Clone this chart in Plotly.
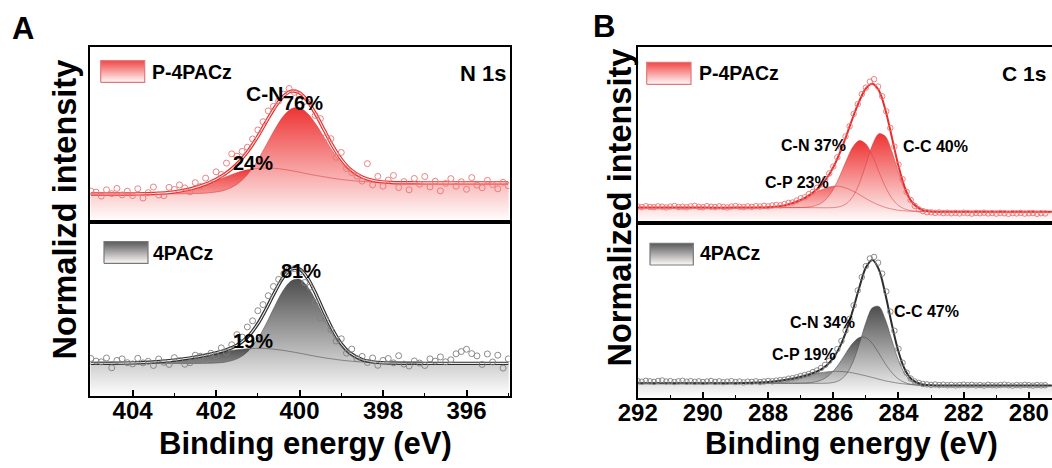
import plotly.graph_objects as go

W, H = 1052, 468

# ---------------- Panel A : N 1s ----------------
A_X = [405.0, 404.875, 404.75, 404.625, 404.5, 404.375, 404.25, 404.125, 404.0, 403.875,
       403.75, 403.625, 403.5, 403.375, 403.25, 403.125, 403.0, 402.875, 402.75, 402.625,
       402.5, 402.375, 402.25, 402.125, 402.0, 401.875, 401.75, 401.625, 401.5, 401.375,
       401.25, 401.125, 401.0, 400.875, 400.75, 400.625, 400.5, 400.375, 400.25, 400.125,
       400.0, 399.875, 399.75, 399.625, 399.5, 399.375, 399.25, 399.125, 399.0, 398.875,
       398.75, 398.625, 398.5, 398.375, 398.25, 398.125, 398.0, 397.875, 397.75, 397.625,
       397.5, 397.375, 397.25, 397.125, 397.0, 396.875, 396.75, 396.625, 396.5, 396.375,
       396.25, 396.125, 396.0, 395.875, 395.75, 395.625, 395.5, 395.375, 395.25, 395.125, 395.0]

A_TOP_DATA = [17.5, 16.9, 14.6, 18.2, 16.0, 19.0, 15.3, 17.4, 14.9, 18.8,
              13.5, 16.6, 19.8, 15.2, 14.8, 19.6, 18.4, 21.0, 19.3, 17.0,
              22.3, 20.1, 24.9, 21.6, 28.5, 27.0, 33.5, 38.8, 37.5, 40.2,
              42.6, 47.3, 52.5, 57.2, 63.4, 66.0, 69.1, 73.0, 76.2, 74.0,
              72.4, 68.9, 68.5, 60.8, 59.0, 48.2, 47.5, 36.8, 39.6, 30.4,
              28.1, 26.0, 23.2, 33.2, 21.0, 25.9, 20.3, 23.8, 26.4, 19.5,
              22.9, 18.2, 24.7, 21.4, 25.8, 19.9, 23.1, 17.6, 21.9, 24.6,
              20.3, 22.8, 18.5, 25.2, 20.9, 19.4, 23.6, 21.2, 18.8, 22.5, 20.6]

A_BOT_DATA = [21.5, 20.0, 19.6, 21.8, 16.2, 20.4, 21.3, 19.1, 18.4, 21.6,
              19.0, 19.9, 17.5, 21.2, 19.3, 18.1, 22.0, 20.3, 18.2, 19.1,
              23.4, 22.8, 20.6, 24.5, 23.1, 27.6, 25.0, 29.4, 35.2, 33.8,
              39.6, 43.1, 48.9, 52.4, 57.5, 62.8, 66.9, 70.2, 72.6, 73.0,
              70.9, 65.1, 62.4, 53.6, 44.9, 44.2, 38.1, 31.5, 32.8, 24.6,
              26.9, 21.4, 22.7, 19.2, 21.8, 17.6, 20.4, 21.5, 19.0, 23.1,
              18.3, 17.2, 20.1, 18.9, 17.5, 21.3, 20.0, 22.4, 19.6, 20.8,
              24.2, 25.5, 26.8, 24.3, 23.0, 18.1, 24.1, 19.5, 23.4, 16.0, 21.3]

A_FIT_X = [405.0, 404.5, 404.0, 403.5, 403.0, 402.6, 402.2, 401.8, 401.5, 401.25,
           401.0, 400.8, 400.6, 400.4, 400.2, 400.0, 399.8, 399.6, 399.4, 399.2,
           399.0, 398.8, 398.5, 398.2, 397.8, 397.0, 396.0, 395.0]

A_TOP_BG = [15.8, 15.8, 15.8, 15.8, 15.9, 16.0, 16.1, 16.2, 16.4, 16.65,
            17.0, 17.4, 17.9, 18.5, 19.1, 19.7, 20.3, 20.9, 21.4, 21.7,
            21.95, 22.1, 22.2, 22.2, 22.2, 22.2, 22.2, 22.2]
A_TOP_CN76 = [15.8, 15.8, 15.8, 15.8, 15.9, 16.04, 16.41, 17.93, 21.35, 26.85,
              35.3, 43.8, 52.5, 60.0, 64.6, 65.2, 61.8, 55.5, 47.8, 40.0,
              33.55, 28.8, 24.7, 22.96, 22.31, 22.2, 22.2, 22.2]
A_TOP_P24 = [15.8, 15.8, 15.85, 16.08, 17.05, 18.8, 21.6, 25.3, 28.0, 29.65,
             30.5, 30.7, 30.5, 30.0, 29.2, 28.3, 27.3, 26.4, 25.6, 24.8,
             24.15, 23.6, 23.0, 22.6, 22.3, 22.2, 22.2, 22.2]

A_BOT_BG = [18.7, 18.7, 18.7, 18.7, 18.7, 18.7, 18.7, 18.7, 18.7, 18.7,
            18.7, 18.7, 18.7, 18.7, 18.7, 18.7, 18.7, 18.7, 18.7, 18.7,
            18.7, 18.7, 18.7, 18.7, 18.7, 18.7, 18.7, 18.7]
A_BOT_CN81 = [18.7, 18.7, 18.7, 18.7, 18.7, 18.7, 18.77, 19.37, 21.3, 25.3,
              32.8, 41.4, 51.2, 60.2, 66.0, 66.9, 62.4, 54.1, 44.2, 35.2,
              28.1, 23.5, 20.1, 19.03, 18.73, 18.7, 18.7, 18.7]
A_BOT_P19 = [18.72, 18.78, 18.97, 19.48, 20.55, 21.9, 23.6, 25.4, 26.5, 27.1,
             27.3, 27.2, 26.8, 26.2, 25.4, 24.55, 23.6, 22.7, 21.9, 21.2,
             20.55, 20.05, 19.48, 19.12, 18.87, 18.72, 18.7, 18.7]

# ---------------- Panel B : C 1s ----------------
B_X = [292.0, 291.875, 291.75, 291.625, 291.5, 291.375, 291.25, 291.125, 291.0, 290.875,
       290.75, 290.625, 290.5, 290.375, 290.25, 290.125, 290.0, 289.875, 289.75, 289.625,
       289.5, 289.375, 289.25, 289.125, 289.0, 288.875, 288.75, 288.625, 288.5, 288.375,
       288.25, 288.125, 288.0, 287.875, 287.75, 287.625, 287.5, 287.375, 287.25, 287.125,
       287.0, 286.875, 286.75, 286.625, 286.5, 286.375, 286.25, 286.125, 286.0, 285.875,
       285.75, 285.625, 285.5, 285.375, 285.25, 285.125, 285.0, 284.875, 284.75, 284.625,
       284.5, 284.375, 284.25, 284.125, 284.0, 283.875, 283.75, 283.625, 283.5, 283.375,
       283.25, 283.125, 283.0, 282.875, 282.75, 282.625, 282.5, 282.375, 282.25, 282.125,
       282.0, 281.875, 281.75, 281.625, 281.5, 281.375, 281.25, 281.125, 281.0, 280.875,
       280.75, 280.625, 280.5, 280.375, 280.25, 280.125, 280.0, 279.875, 279.75, 279.625, 279.5]

B_TOP_DATA = [9.2, 8.9, 9.4, 9.0, 8.8, 9.3, 9.1, 8.7, 9.2, 9.5,
              8.9, 9.1, 8.8, 9.3, 9.6, 9.0, 8.8, 9.4, 9.1, 8.9,
              9.3, 9.0, 8.7, 9.2, 9.5, 9.1, 8.9, 9.3, 9.0, 9.4,
              9.2, 9.6, 9.3, 9.8, 10.1, 9.9, 10.6, 11.3, 11.5, 12.6,
              13.9, 14.5, 16.3, 17.6, 19.9, 21.8, 24.9, 28.1, 32.0, 37.3,
              42.5, 49.2, 55.0, 62.0, 67.6, 73.3, 77.0, 80.4, 81.8, 77.6,
              72.1, 63.5, 54.0, 43.4, 33.1, 24.8, 17.6, 12.9, 9.6, 7.6,
              6.6, 6.0, 5.9, 5.6, 5.8, 5.5, 5.7, 5.4, 5.6, 5.3,
              5.7, 5.5, 5.2, 5.6, 5.4, 5.7, 5.3, 5.5, 5.2, 5.6,
              5.4, 5.1, 5.5, 5.3, 5.6, 5.2, 5.4, 5.5, 5.1, 5.4, 5.3]

B_BOT_DATA = [9.7, 9.4, 9.9, 9.6, 9.3, 9.8, 10.1, 9.5, 9.7, 9.2,
              9.6, 9.9, 9.4, 9.7, 9.3, 9.6, 9.2, 9.5, 9.8, 9.3,
              9.6, 9.1, 9.4, 9.7, 9.2, 9.5, 9.0, 9.4, 9.3, 9.6,
              9.2, 9.5, 9.8, 9.6, 10.0, 10.3, 10.5, 11.1, 11.4, 11.9,
              12.6, 13.2, 13.8, 14.9, 15.8, 17.2, 19.0, 21.3, 24.2, 28.0,
              32.6, 38.5, 45.2, 52.9, 61.4, 69.0, 75.3, 79.6, 80.5, 77.2,
              71.0, 60.8, 49.3, 38.4, 28.1, 20.2, 14.6, 11.2, 9.5, 8.7,
              8.1, 7.9, 7.6, 7.8, 7.5, 7.7, 7.4, 7.6, 7.3, 7.5,
              7.7, 7.4, 7.6, 7.3, 7.5, 7.2, 7.6, 7.4, 7.3, 7.5,
              7.7, 7.4, 7.2, 7.5, 7.3, 7.6, 7.4, 7.2, 7.5, 7.3, 7.4]

B_FIT_X = [292.0, 291.0, 290.0, 289.0, 288.0, 287.5, 287.0, 286.7, 286.4, 286.2,
           286.0, 285.8, 285.6, 285.4, 285.2, 285.0, 284.8, 284.6, 284.4, 284.2,
           284.0, 283.8, 283.6, 283.3, 283.0, 282.5, 282.0, 281.0, 280.0, 279.3]

B_TOP_BG = [8.6, 8.6, 8.6, 8.6, 8.6, 8.6, 8.6, 8.58, 8.53, 8.48,
            8.4, 8.32, 8.2, 8.07, 7.9, 7.7, 7.5, 7.25, 7.0, 6.8,
            6.6, 6.5, 6.4, 6.33, 6.3, 6.3, 6.3, 6.3, 6.3, 6.3]
B_TOP_CC = [8.6, 8.6, 8.6, 8.6, 8.6, 8.6, 8.6, 8.58, 8.54, 8.52,
            8.61, 9.14, 10.8, 14.87, 22.4, 33.2, 44.3, 50.75, 49.2, 40.4,
            28.6, 18.3, 11.6, 7.38, 6.44, 6.3, 6.3, 6.3, 6.3, 6.3]
B_TOP_CN = [8.6, 8.6, 8.6, 8.6, 8.6, 8.6, 8.67, 9.06, 10.79, 13.78,
            19.0, 26.62, 35.4, 43.17, 46.8, 44.9, 38.2, 29.05, 20.4, 13.9,
            9.8, 7.77, 6.83, 6.38, 6.3, 6.3, 6.3, 6.3, 6.3, 6.3]
B_TOP_CP = [8.6, 8.6, 8.6, 8.6, 8.85, 9.88, 12.86, 15.68, 18.53, 19.98,
            20.8, 20.72, 19.7, 18.07, 16.0, 13.8, 11.76, 10.05, 8.7, 7.76,
            7.1, 6.75, 6.51, 6.36, 6.3, 6.3, 6.3, 6.3, 6.3, 6.3]

B_BOT_BG = [8.5, 8.5, 8.5, 8.5, 8.5, 8.5, 8.5, 8.48, 8.44, 8.4,
            8.35, 8.28, 8.2, 8.1, 8.0, 7.9, 7.8, 7.65, 7.5, 7.4,
            7.3, 7.25, 7.2, 7.2, 7.2, 7.2, 7.2, 7.2, 7.2, 7.2]
B_BOT_CC = [8.5, 8.5, 8.5, 8.5, 8.5, 8.5, 8.5, 8.48, 8.47, 8.54,
            8.93, 10.25, 13.66, 20.5, 31.0, 43.0, 51.5, 52.25, 44.7, 32.9,
            21.6, 13.75, 9.65, 7.59, 7.24, 7.2, 7.2, 7.2, 7.2, 7.2]
B_BOT_CN = [8.5, 8.5, 8.5, 8.5, 8.5, 8.5, 8.57, 8.87, 10.09, 12.05,
            15.45, 20.28, 26.1, 31.4, 34.6, 34.5, 31.1, 25.55, 19.5, 14.5,
            10.95, 8.9, 7.85, 7.33, 7.22, 7.2, 7.2, 7.2, 7.2, 7.2]
B_BOT_CP = [8.5, 8.5, 8.5, 8.55, 9.21, 10.33, 12.15, 13.38, 14.49, 15.0,
            15.28, 15.28, 14.97, 14.4, 13.6, 12.74, 11.8, 10.81, 9.9, 9.16,
            8.54, 8.09, 7.74, 7.46, 7.32, 7.22, 7.2, 7.2, 7.2, 7.2]

X_TICKS_A = [404, 402, 400, 398, 396]
X_TICKS_B = [292, 290, 288, 286, 284, 282, 280]

# ---------------- styling ----------------
FONT = "Liberation Sans, Arial, Helvetica, sans-serif"
RED = "rgb(238,52,52)"
RED_SOFT = "rgb(243,100,100)"
RED_LINE = "rgba(215,60,60,0.6)"
RED_DOT = "rgba(232,118,118,0.9)"
RED_ENV = "rgb(232,45,45)"
GRAY = "rgb(78,78,78)"
GRAY_SOFT = "rgb(135,135,135)"
GRAY_LINE = "rgba(70,70,70,0.6)"
GRAY_DOT = "rgba(128,128,128,0.9)"
GRAY_ENV = "rgb(45,45,45)"


def fxp(px):
    return px / W


def fyp(py):
    return 1 - py / H


A_XDOM = [fxp(90.0), fxp(509.5)]
B_XDOM = [fxp(637.7), 1.0]
A_TOP_YDOM = [fyp(221.6), fyp(47.0)]
A_BOT_YDOM = [fyp(396.0), fyp(221.6)]
B_TOP_YDOM = [fyp(222.7), fyp(47.3)]
B_BOT_YDOM = [fyp(398.2), fyp(222.7)]
A_RANGE = [405.02, 394.97]
B_RANGE = [292.0, 279.29]
Y_RANGE = [0, 100]


def envelope(bg, *comps):
    return [b + sum(c[i] - b for c in comps) for i, b in enumerate(bg)]


fig = go.Figure()


def add_panel(xa, ya, fit_x, bg, comps, data_x, data_y, env_color, dot_color,
              line_color, double_env, dot_size):
    for comp, top_col in comps:
        fig.add_trace(go.Scatter(
            x=fit_x, y=comp, mode="lines", xaxis=xa, yaxis=ya,
            line=dict(width=0, shape="spline", smoothing=0.9, color=top_col),
            fill="tozeroy",
            fillgradient=dict(type="vertical", start=0, stop=max(comp),
                              colorscale=[[0, "rgb(255,255,255)"], [1, top_col]]),
            hoverinfo="skip", showlegend=False))
    for comp, _ in comps:
        fig.add_trace(go.Scatter(
            x=fit_x, y=comp, mode="lines", xaxis=xa, yaxis=ya,
            line=dict(width=0.9, shape="spline", smoothing=0.9, color=line_color),
            hoverinfo="skip", showlegend=False))
    env = envelope(bg, *[c for c, _ in comps])
    if double_env:
        fig.add_trace(go.Scatter(
            x=fit_x, y=env, mode="lines", xaxis=xa, yaxis=ya,
            line=dict(width=3.4, shape="spline", smoothing=0.9, color=env_color),
            hoverinfo="skip", showlegend=False))
        fig.add_trace(go.Scatter(
            x=fit_x, y=env, mode="lines", xaxis=xa, yaxis=ya,
            line=dict(width=1.1, shape="spline", smoothing=0.9, color="rgba(255,255,255,0.9)"),
            hoverinfo="skip", showlegend=False))
    else:
        fig.add_trace(go.Scatter(
            x=fit_x, y=env, mode="lines", xaxis=xa, yaxis=ya,
            line=dict(width=2.0, shape="spline", smoothing=0.9, color=env_color),
            hoverinfo="skip", showlegend=False))
    fig.add_trace(go.Scatter(
        x=data_x, y=data_y, mode="markers", xaxis=xa, yaxis=ya,
        marker=dict(symbol="circle-open", size=dot_size, color=dot_color,
                    line=dict(width=1, color=dot_color)),
        hoverinfo="skip", showlegend=False))


add_panel("x", "y", A_FIT_X, A_TOP_BG, [(A_TOP_P24, RED), (A_TOP_CN76, RED)],
          A_X, A_TOP_DATA, RED_ENV, RED_DOT, RED_LINE, True, 6)
add_panel("x2", "y2", A_FIT_X, A_BOT_BG, [(A_BOT_P19, GRAY), (A_BOT_CN81, GRAY)],
          A_X, A_BOT_DATA, GRAY_ENV, GRAY_DOT, GRAY_LINE, True, 6)
add_panel("x3", "y3", B_FIT_X, B_TOP_BG, [(B_TOP_CP, RED_SOFT), (B_TOP_CN, RED), (B_TOP_CC, RED)],
          B_X, B_TOP_DATA, RED_ENV, RED_DOT, RED_LINE, False, 5.5)
add_panel("x4", "y4", B_FIT_X, B_BOT_BG, [(B_BOT_CP, GRAY_SOFT), (B_BOT_CN, GRAY), (B_BOT_CC, GRAY)],
          B_X, B_BOT_DATA, GRAY_ENV, GRAY_DOT, GRAY_LINE, False, 5.5)


def px_to_data(px, py, xdom, xr, ydom, yr):
    x = xr[0] + (px / W - xdom[0]) / (xdom[1] - xdom[0]) * (xr[1] - xr[0])
    y = yr[0] + ((1 - py / H) - ydom[0]) / (ydom[1] - ydom[0]) * (yr[1] - yr[0])
    return x, y


def add_key(xa, ya, box, xdom, xr, ydom, top_col, edge_col):
    x0, y0 = px_to_data(box[0], box[3], xdom, xr, ydom, Y_RANGE)
    x1, y1 = px_to_data(box[2], box[1], xdom, xr, ydom, Y_RANGE)
    fig.add_trace(go.Scatter(
        x=[x0, x1, x1, x0, x0], y=[y0, y0, y1, y1, y0], mode="lines",
        xaxis=xa, yaxis=ya, line=dict(width=1.2, color=edge_col),
        fill="toself",
        fillgradient=dict(type="vertical", start=y0, stop=y1,
                          colorscale=[[0, "rgb(255,250,250)"], [1, top_col]]),
        hoverinfo="skip", showlegend=False))


add_key("x", "y", (100.7, 60.7, 144.7, 82.3), A_XDOM, A_RANGE, A_TOP_YDOM, "rgb(240,70,70)", "rgb(228,120,120)")
add_key("x2", "y2", (104.0, 241.7, 148.0, 263.3), A_XDOM, A_RANGE, A_BOT_YDOM, "rgb(90,90,90)", "rgb(120,120,120)")
add_key("x3", "y3", (646.7, 62.3, 691.0, 84.3), B_XDOM, B_RANGE, B_TOP_YDOM, "rgb(240,70,70)", "rgb(228,120,120)")
add_key("x4", "y4", (650.0, 243.3, 693.3, 265.0), B_XDOM, B_RANGE, B_BOT_YDOM, "rgb(90,90,90)", "rgb(120,120,120)")

# ---------------- axes ----------------
tickfont = dict(family=FONT, size=24, color="black", weight="bold")


def xaxis(dom, rng, anchor, bottom, ticks_vals, mirror=True):
    d = dict(domain=dom, range=rng, anchor=anchor, showline=True, linewidth=2,
             linecolor="black", mirror=mirror, showgrid=False, zeroline=False,
             automargin=False)
    if bottom:
        d.update(ticks="inside", ticklen=6, tickwidth=1.6, tickcolor="black",
                 tickvals=ticks_vals, ticktext=[str(v) for v in ticks_vals],
                 tickfont=tickfont, ticklabelstandoff=-8,
                 minor=dict(dtick=1, tick0=0, ticks="inside", ticklen=3.5,
                            tickwidth=1.3, tickcolor="black"))
    else:
        d.update(ticks="", showticklabels=False)
    return d


def yaxis(dom, anchor, mirror):
    return dict(domain=dom, range=Y_RANGE, anchor=anchor, showline=True, linewidth=2,
                linecolor="black", mirror=mirror, showgrid=False, zeroline=False,
                ticks="", showticklabels=False, automargin=False)


layout = dict(
    width=W, height=H, autosize=False,
    margin=dict(l=0, r=0, t=0, b=0, pad=0),
    paper_bgcolor="white", plot_bgcolor="white",
    showlegend=False,
    xaxis=xaxis(A_XDOM, A_RANGE, "y", False, X_TICKS_A),
    yaxis=yaxis(A_TOP_YDOM, "x", True),
    xaxis2=xaxis(A_XDOM, A_RANGE, "y2", True, X_TICKS_A),
    yaxis2=yaxis(A_BOT_YDOM, "x2", True),
    xaxis3=xaxis(B_XDOM, B_RANGE, "y3", False, X_TICKS_B),
    yaxis3=yaxis(B_TOP_YDOM, "x3", False),
    xaxis4=xaxis(B_XDOM, B_RANGE, "y4", True, X_TICKS_B),
    yaxis4=yaxis(B_BOT_YDOM, "x4", False),
)
fig.update_layout(**layout)

# ---------------- texts ----------------
TEXTS = [
    ("A", 22.5, 28.5, 31, "center", 0),
    ("B", 603.5, 26.5, 31, "center", 0),
    ("Binding energy (eV)", 305.0, 443.0, 31, "center", 0),
    ("Binding energy (eV)", 851.5, 443.0, 31, "center", 0),
    ("Normalizd intensity", 64.5, 210.0, 32.5, "center", -90),
    ("Normalized intensity", 619.5, 208.0, 32.5, "center", -90),
    ("P-4PACz", 149.7, 71.7, 19.5, "left", 0),
    ("4PACz", 151.3, 253.3, 19.5, "left", 0),
    ("P-4PACz", 696.7, 73.3, 19.5, "left", 0),
    ("4PACz", 698.3, 253.3, 19.5, "left", 0),
    ("N 1s", 508.0, 73.0, 22, "right", 0),
    ("C 1s", 1048.0, 73.3, 21, "right", 0),
    ("C-N", 264.7, 94.0, 21, "center", 0),
    ("76%", 303.0, 102.5, 20, "center", 0),
    ("24%", 253.0, 162.5, 20, "center", 0),
    ("81%", 301.0, 271.0, 20, "center", 0),
    ("19%", 253.3, 340.5, 20, "center", 0),
    ("C-N 37%", 813.3, 145.0, 16, "center", 0),
    ("C-C 40%", 935.0, 146.7, 16, "center", 0),
    ("C-P 23%", 796.7, 182.5, 16, "center", 0),
    ("C-C 47%", 926.0, 311.0, 16, "center", 0),
    ("C-N 34%", 822.7, 322.5, 16, "center", 0),
    ("C-P 19%", 803.8, 354.0, 16, "center", 0),
]

anns = []
for txt, px, py, size, anchor, ang in TEXTS:
    anns.append(dict(text="<b>" + txt + "</b>", x=fxp(px), y=fyp(py), xref="paper", yref="paper",
                     xanchor=anchor, yanchor="middle", showarrow=False, textangle=ang,
                     font=dict(family=FONT, size=size, color="black")))
fig.update_layout(annotations=anns)

fig.write_html("out.html", config={"displayModeBar": False},
               post_script="document.body.style.margin='0px';document.body.style.overflow='hidden';")
